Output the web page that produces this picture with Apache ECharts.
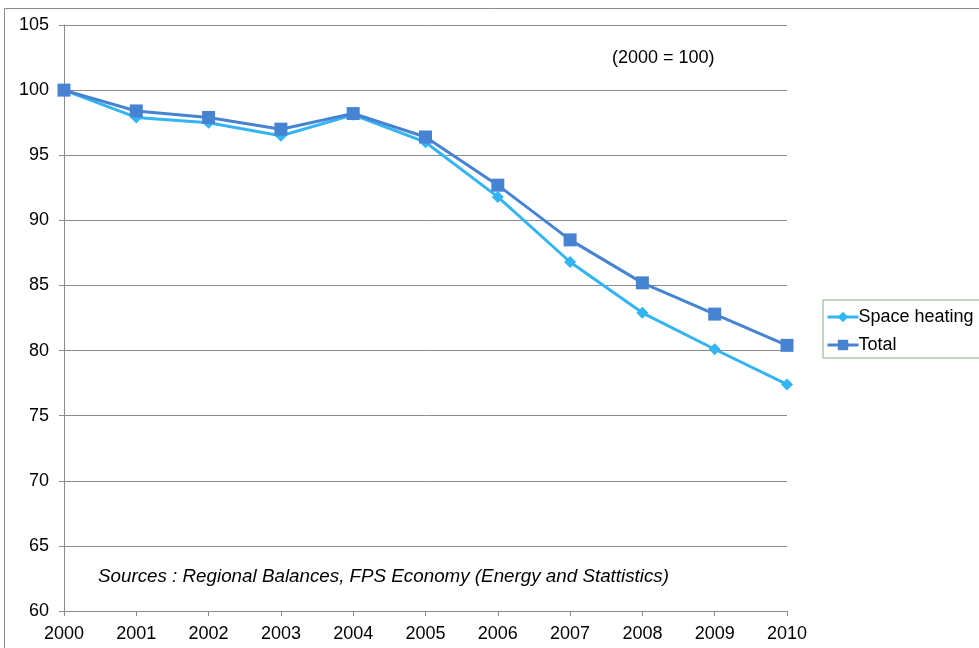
<!DOCTYPE html>
<html>
<head>
<meta charset="utf-8">
<script src="https://cdn.jsdelivr.net/npm/echarts@6/dist/echarts.min.js"></script>
<style>
  html, body { margin: 0; padding: 0; background: #fff; }
  #chart { width: 979px; height: 648px; }
</style>
</head>
<body>
<div id="chart"></div>
<script>
// Energy consumption index, 2000 = 100
const years = ['2000', '2001', '2002', '2003', '2004', '2005', '2006', '2007', '2008', '2009', '2010'];
const spaceHeating = [100, 97.9, 97.5, 96.5, 98.1, 96.0, 91.8, 86.8, 82.9, 80.1, 77.4];
const total = [100, 98.4, 97.9, 97.0, 98.2, 96.4, 92.7, 88.5, 85.2, 82.8, 80.4];
const yTicks = { min: 60, max: 105, step: 5 };

const FONT = '"Liberation Sans", Arial, sans-serif';
const FS = 18;
const chart = echarts.init(document.getElementById('chart'), null, { renderer: 'canvas' });

chart.setOption({
  backgroundColor: '#fff',
  animation: false,
  textStyle: { fontFamily: FONT },
  grid: { left: 64, right: 192, top: 25, bottom: 37, containLabel: false },
  graphic: [
    {
      type: 'rect',
      shape: { x: 4.5, y: 8.5, width: 1000, height: 700 },
      style: { fill: 'none', stroke: '#8a8a8a', lineWidth: 1 },
      silent: true
    },
    {
      type: 'text',
      x: 612, y: 58,
      style: { text: '(2000 = 100)', font: FS + 'px ' + FONT, fill: '#000', verticalAlign: 'middle' }
    },
    {
      type: 'text',
      x: 98, y: 577,
      style: { text: 'Sources : Regional Balances, FPS Economy (Energy and Stattistics)', font: 'italic 18.8px ' + FONT, fill: '#000', verticalAlign: 'middle' }
    }
  ],
  legend: {
    orient: 'vertical',
    left: 823, top: 300,
    padding: [7, 10, 3, 3],
    itemGap: 8,
    itemWidth: 31, itemHeight: 13,
    borderColor: '#7fae7f',
    borderWidth: 1,
    lineStyle: { width: 3 },
    textStyle: { fontSize: FS, lineHeight: 20, color: '#000', fontFamily: FONT, padding: [0, 0, 0, -5] },
    data: ['Space heating', 'Total']
  },
  xAxis: {
    type: 'category',
    data: years,
    boundaryGap: false,
    axisLine: { lineStyle: { color: '#8a8a8a', width: 1 } },
    axisTick: { show: true, alignWithLabel: true, length: 5, lineStyle: { color: '#8a8a8a' } },
    axisLabel: { color: '#000', fontSize: FS, fontFamily: FONT, margin: 14 },
    splitLine: { show: false }
  },
  yAxis: {
    type: 'value',
    min: yTicks.min, max: yTicks.max, interval: yTicks.step,
    axisLine: { show: true, lineStyle: { color: '#8a8a8a', width: 1 } },
    axisTick: { show: true, length: 5, lineStyle: { color: '#8a8a8a' } },
    axisLabel: { color: '#000', fontSize: FS, fontFamily: FONT, margin: 15 },
    splitLine: { show: true, lineStyle: { color: '#8a8a8a', width: 1 } }
  },
  series: [
    {
      name: 'Space heating',
      type: 'line',
      data: spaceHeating,
      symbol: 'diamond',
      symbolSize: 12,
      color: '#33b4f4',
      lineStyle: { width: 3, color: '#33b4f4' },
      itemStyle: { color: '#33b4f4' },
      z: 2
    },
    {
      name: 'Total',
      type: 'line',
      data: total,
      symbol: 'rect',
      symbolSize: 13,
      color: '#4683d3',
      lineStyle: { width: 3, color: '#4683d3' },
      itemStyle: { color: '#4683d3' },
      z: 3
    }
  ]
});
</script>
</body>
</html>
